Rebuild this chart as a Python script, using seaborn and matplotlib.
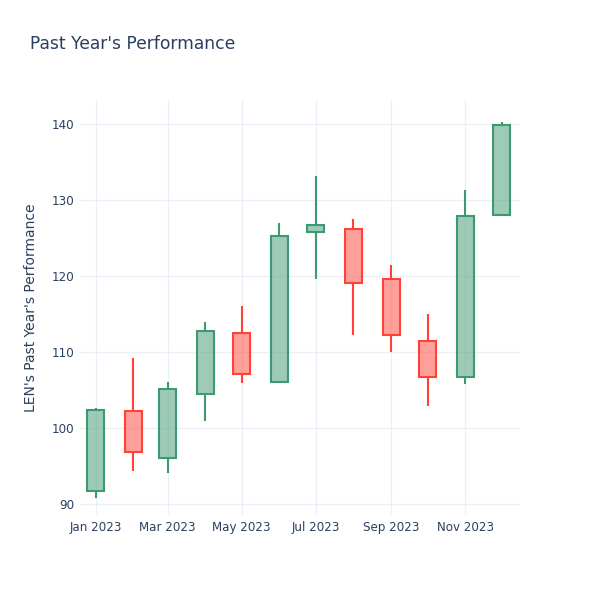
import pandas as pd
import numpy as np
import matplotlib
matplotlib.use("Agg")
import matplotlib.pyplot as plt
import matplotlib.dates as mdates
import seaborn as sns

# ----------------------------------------------------
# DATA (monthly OHLC)
# ----------------------------------------------------

months = ["2023-01-01", "2023-02-01", "2023-03-01", "2023-04-01", "2023-05-01", "2023-06-01",
          "2023-07-01", "2023-08-01", "2023-09-01", "2023-10-01", "2023-11-01", "2023-12-01"]
open_ = [91.7, 102.2, 96.0, 104.5, 112.5, 106.1, 125.8, 126.2, 119.6, 111.4, 106.7, 128.0]
high = [102.6, 109.2, 106.0, 113.9, 116.1, 127.0, 133.2, 127.5, 121.5, 115.0, 131.3, 140.35]
low = [90.8, 94.3, 94.1, 100.9, 105.9, 106.1, 119.6, 112.2, 110.0, 102.9, 105.8, 128.0]
close = [102.4, 96.8, 105.1, 112.8, 107.1, 125.3, 126.7, 119.1, 112.2, 106.7, 127.9, 139.9]

tick_dates = ["2023-01-01", "2023-03-01", "2023-05-01", "2023-07-01", "2023-09-01", "2023-11-01"]
tick_labels = ["Jan 2023", "Mar 2023", "May 2023", "Jul 2023", "Sep 2023", "Nov 2023"]
y_ticks = [90, 100, 110, 120, 130, 140]

df = pd.DataFrame({"date": pd.to_datetime(months), "open": open_, "high": high,
                   "low": low, "close": close})
df["up"] = df["close"] >= df["open"]

# ----------------------------------------------------
# PLOT
# ----------------------------------------------------

sns.set_theme(style="white")
plt.rcParams["font.family"] = ["DejaVu Sans"]

GREEN = "#3D9970"
RED = "#FF4136"
TEXT = "#2a3f5f"
GRID = "#EBF0F8"

fig = plt.figure(figsize=(6, 6), dpi=100)
ax = fig.add_axes([80 / 600, 85 / 600, 440 / 600, 415 / 600])

for _, r in df.iterrows():
    col = GREEN if r["up"] else RED
    lo_body = min(r["open"], r["close"])
    hi_body = max(r["open"], r["close"])
    ax.vlines(r["date"], r["low"], lo_body, color=col, lw=1.5, zorder=2)
    ax.vlines(r["date"], hi_body, r["high"], color=col, lw=1.5, zorder=2)
    ax.bar(r["date"], hi_body - lo_body, bottom=lo_body, width=14,
           facecolor=matplotlib.colors.to_rgba(col, 0.5), edgecolor=col,
           linewidth=1.5, zorder=3)

ax.set_xlim(pd.Timestamp("2022-12-19"), pd.Timestamp("2023-12-16"))
ax.set_ylim(88.55, 143.2)

ax.set_xticks(pd.to_datetime(tick_dates))
ax.set_xticklabels(tick_labels)
ax.set_yticks(y_ticks)
ax.tick_params(axis="both", length=0, labelsize=8.6, labelcolor=TEXT, pad=4)
ax.grid(True, color=GRID, lw=1, zorder=0)
ax.set_axisbelow(True)
for s in ax.spines.values():
    s.set_visible(False)

ax.set_ylabel("LEN's Past Year's Performance", fontsize=10, color=TEXT, labelpad=10)
fig.text(30 / 600, 1 - 44 / 600, "Past Year's Performance", fontsize=12.3, color=TEXT,
         ha="left", va="center")

fig.savefig("out.png", dpi=100)
plt.close(fig)
